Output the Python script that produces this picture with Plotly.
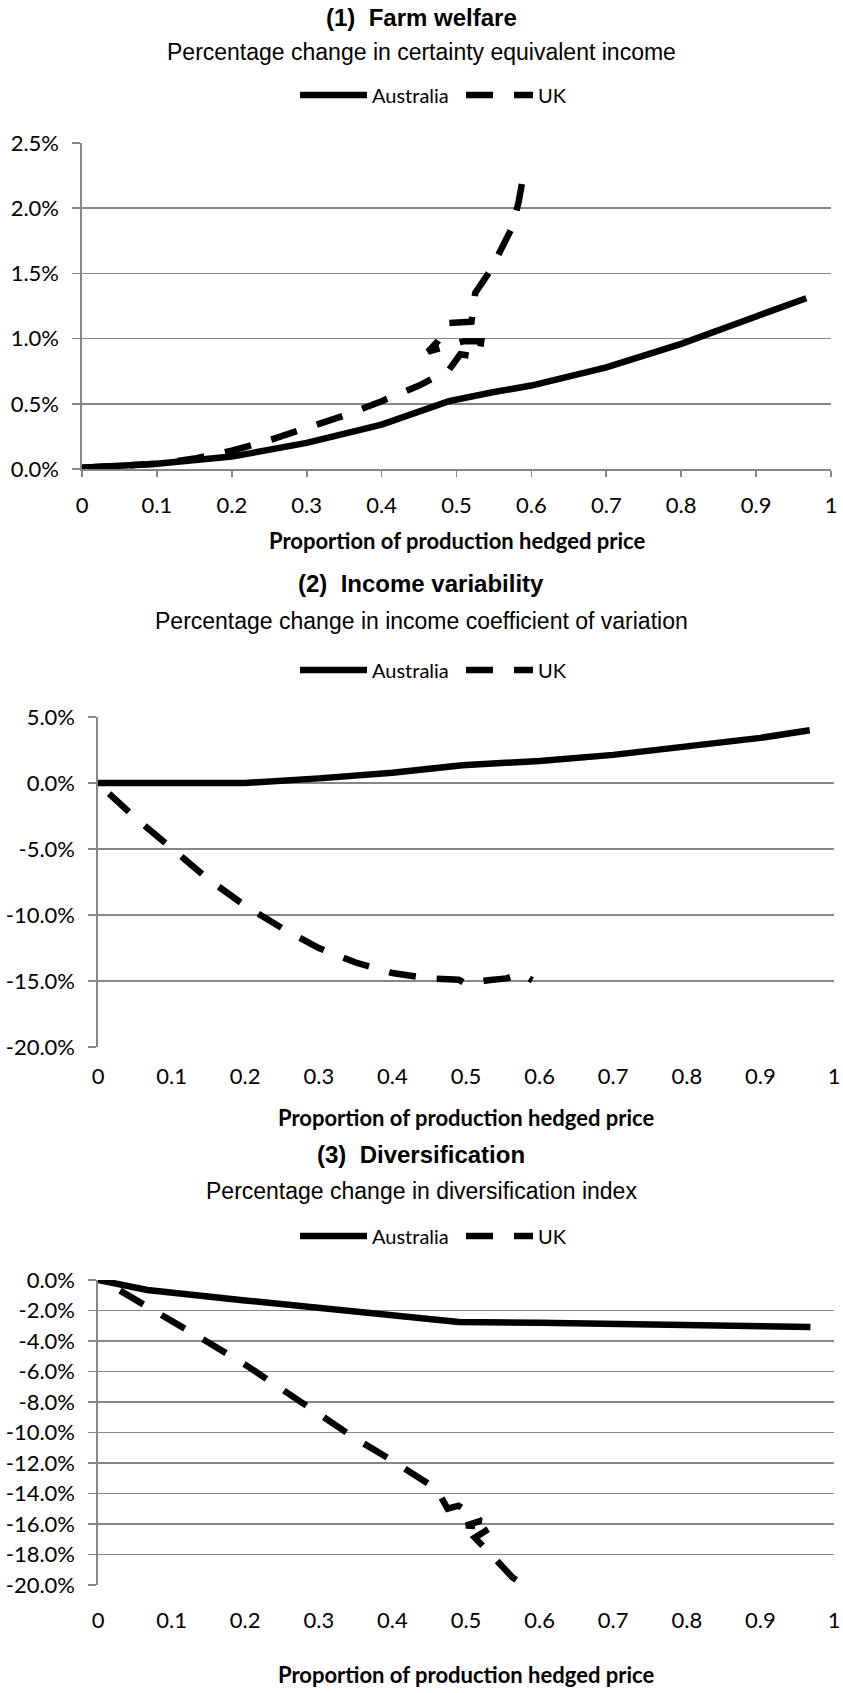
import plotly.graph_objects as go

# ---------------- data ----------------
x_ticks = [0, 0.1, 0.2, 0.3, 0.4, 0.5, 0.6, 0.7, 0.8, 0.9, 1]
x_ticklabels = ["0", "0.1", "0.2", "0.3", "0.4", "0.5", "0.6", "0.7", "0.8", "0.9", "1"]

# Panel 1: farm welfare (% change in certainty equivalent income)
p1_yticks = [0.0, 0.5, 1.0, 1.5, 2.0, 2.5]
p1_yticklabels = ["0.0%", "0.5%", "1.0%", "1.5%", "2.0%", "2.5%"]
p1_au_x = [0, 0.1, 0.2, 0.3, 0.4, 0.49, 0.55, 0.6, 0.7, 0.8, 0.9, 0.967]
p1_au_y = [0.01, 0.04, 0.095, 0.2, 0.34, 0.52, 0.59, 0.64, 0.78, 0.96, 1.17, 1.31]
p1_uk_x = [0.0, 0.1, 0.15, 0.2, 0.25, 0.3, 0.35, 0.4, 0.45, 0.49, 0.505, 0.53, 0.533,
           0.51, 0.462, 0.475, 0.49, 0.52, 0.525, 0.545, 0.56, 0.575, 0.583, 0.589]
p1_uk_y = [0.01, 0.04, 0.08, 0.14, 0.22, 0.31, 0.41, 0.52, 0.64, 0.76, 0.88, 0.86, 0.98,
           0.98, 0.90, 0.98, 1.12, 1.13, 1.35, 1.52, 1.69, 1.86, 2.05, 2.24]

# Panel 2: income variability (% change in income coefficient of variation)
p2_yticks = [-20, -15, -10, -5, 0, 5]
p2_yticklabels = ["-20.0%", "-15.0%", "-10.0%", "-5.0%", "0.0%", "5.0%"]
p2_au_x = [0, 0.1, 0.15, 0.2, 0.3, 0.4, 0.495, 0.6, 0.7, 0.8, 0.9, 0.967]
p2_au_y = [0.0, 0.0, -0.05, 0.0, 0.35, 0.78, 1.35, 1.67, 2.13, 2.75, 3.42, 4.0]
p2_uk_x = [0.015, 0.05, 0.1, 0.15, 0.2, 0.25, 0.3, 0.35, 0.4, 0.45, 0.49, 0.5, 0.53,
           0.555, 0.575, 0.59]
p2_uk_y = [-0.8, -2.6, -4.95, -7.3, -9.3, -11.0, -12.5, -13.6, -14.4, -14.8, -14.9,
           -15.2, -14.95, -14.8, -14.45, -14.95]

# Panel 3: diversification (% change in diversification index)
p3_yticks = [-20, -18, -16, -14, -12, -10, -8, -6, -4, -2, 0]
p3_yticklabels = ["-20.0%", "-18.0%", "-16.0%", "-14.0%", "-12.0%", "-10.0%",
                  "-8.0%", "-6.0%", "-4.0%", "-2.0%", "0.0%"]
p3_au_x = [0, 0.067, 0.2, 0.3, 0.4, 0.49, 0.6, 0.7, 0.8, 0.9, 0.968]
p3_au_y = [0.0, -0.65, -1.34, -1.83, -2.38, -2.75, -2.8, -2.85, -2.93, -3.0, -3.08]
p3_uk_x = [0.03, 0.1, 0.15, 0.2, 0.25, 0.3, 0.35, 0.4, 0.46, 0.475, 0.49, 0.52, 0.50,
           0.535, 0.512, 0.54, 0.563, 0.575, 0.59]
p3_uk_y = [-0.7, -2.75, -4.1, -5.55, -7.2, -8.85, -10.4, -11.85, -13.7, -15.0, -14.8,
           -15.8, -16.1, -16.2, -16.9, -18.3, -19.5, -19.88, -19.9]

titles = ["(1)  Farm welfare", "(2)  Income variability", "(3)  Diversification"]
subtitles = ["Percentage change in certainty equivalent income",
             "Percentage change in income coefficient of variation",
             "Percentage change in diversification index"]
x_title = "Proportion of production hedged price"
series_names = ["Australia", "UK"]

# ---------------- layout helpers ----------------
W, H = 843, 1693
def fx(px):
    return px / W
def fy(py):
    return 1 - py / H

GRID = "#868686"
LW = 6.5
DASH = "27px,21px"
TICKFONT = dict(family="Lato", size=22, color="black")
LEGFONT = dict(family="Lato", size=20, color="black")

fig = go.Figure()

panels = [
    dict(ax="", au=(p1_au_x, p1_au_y), uk=(p1_uk_x, p1_uk_y), leg="legend"),
    dict(ax="2", au=(p2_au_x, p2_au_y), uk=(p2_uk_x, p2_uk_y), leg="legend2"),
    dict(ax="3", au=(p3_au_x, p3_au_y), uk=(p3_uk_x, p3_uk_y), leg="legend3"),
]
for p in panels:
    fig.add_trace(go.Scatter(x=p["au"][0], y=p["au"][1], mode="lines", name=series_names[0],
                             line=dict(color="black", width=LW),
                             xaxis="x" + p["ax"], yaxis="y" + p["ax"], legend=p["leg"]))
    fig.add_trace(go.Scatter(x=p["uk"][0], y=p["uk"][1], mode="lines", name=series_names[1],
                             line=dict(color="black", width=LW, dash=DASH),
                             xaxis="x" + p["ax"], yaxis="y" + p["ax"], legend=p["leg"]))

# plot area pixel boxes: (left, right, top, bottom)
box1 = (82, 831, 143, 469)
box2 = (98, 834, 717, 1047)
box3 = (98, 834, 1280, 1585)

def xdom(b):
    return [fx(b[0]), fx(b[1])]
def ydom(b):
    return [fy(b[3]), fy(b[2])]

common_x = dict(range=[0, 1], tickvals=x_ticks, ticktext=x_ticklabels, tickfont=TICKFONT,
                showgrid=False, zeroline=False, fixedrange=True, automargin=False,
                ticklabeloverflow="allow")
common_y = dict(tickfont=TICKFONT, showgrid=True, gridcolor=GRID, gridwidth=1.6,
                zeroline=False, showline=True, linecolor=GRID, linewidth=1.6,
                ticks="outside", ticklen=8, tickcolor=GRID, tickwidth=1.6,
                ticklabelstandoff=9, automargin=False, fixedrange=True)
overlay_x = dict(anchor="free", ticks="outside", ticklen=6, tickcolor=GRID, tickwidth=1.6,
                 showticklabels=False, showline=True, linecolor=GRID, linewidth=1.6,
                 range=[0, 1], tickvals=x_ticks, showgrid=False, zeroline=False,
                 automargin=False, fixedrange=True)

fig.update_layout(
    width=W, height=H, margin=dict(l=0, r=0, t=0, b=0, autoexpand=False),
    plot_bgcolor="white", paper_bgcolor="white",
    xaxis=dict(domain=xdom(box1), anchor="y", ticks="outside", ticklen=6, tickcolor=GRID,
               tickwidth=1.6, showline=True, linecolor=GRID, linewidth=1.6,
               ticklabelstandoff=10, **common_x),
    yaxis=dict(domain=ydom(box1), anchor="x", range=[0, 2.5], tickvals=p1_yticks,
               ticktext=p1_yticklabels, **common_y),
    xaxis2=dict(domain=xdom(box2), anchor="y2", ticks="", showline=False,
                ticklabelstandoff=14, **common_x),
    yaxis2=dict(domain=ydom(box2), anchor="x2", range=[-20, 5], tickvals=p2_yticks,
                ticktext=p2_yticklabels, **common_y),
    xaxis4=dict(overlaying="x2",
                position=ydom(box2)[0] + (ydom(box2)[1] - ydom(box2)[0]) * 20 / 25,
                **overlay_x),
    xaxis3=dict(domain=xdom(box3), anchor="y3", ticks="", showline=False,
                ticklabelstandoff=20, **common_x),
    yaxis3=dict(domain=ydom(box3), anchor="x3", range=[-20, 0], tickvals=p3_yticks,
                ticktext=p3_yticklabels, **common_y),
    xaxis5=dict(overlaying="x3", position=ydom(box3)[1], **overlay_x),
    showlegend=True,
)

leg_common = dict(orientation="h", xref="paper", yref="paper", xanchor="center",
                  yanchor="middle", font=LEGFONT, itemwidth=67, entrywidth=84,
                  bgcolor="rgba(0,0,0,0)", itemclick=False, itemdoubleclick=False,
                  tracegroupgap=0)
fig.update_layout(
    legend=dict(x=fx(461), y=fy(95), **leg_common),
    legend2=dict(x=fx(461), y=fy(670), **leg_common),
    legend3=dict(x=fx(461), y=fy(1236), **leg_common),
)

# titles, subtitles, axis titles
title_y = [18, 584, 1154]
sub_y = [52, 621, 1191]
axt_y = [540, 1117, 1674]
axt_x = [(box1[0] + box1[1]) / 2, (box2[0] + box2[1]) / 2, (box3[0] + box3[1]) / 2]
for i in range(3):
    fig.add_annotation(text=titles[i], x=fx(421), y=fy(title_y[i]), xref="paper", yref="paper",
                       showarrow=False, xanchor="center", yanchor="middle",
                       font=dict(family="Liberation Sans", size=24, color="black", weight="bold"))
    fig.add_annotation(text=subtitles[i], x=fx(421), y=fy(sub_y[i]), xref="paper", yref="paper",
                       showarrow=False, xanchor="center", yanchor="middle",
                       font=dict(family="Liberation Sans", size=23, color="black"))
    fig.add_annotation(text=x_title, x=fx(axt_x[i]), y=fy(axt_y[i]), xref="paper", yref="paper",
                       showarrow=False, xanchor="center", yanchor="middle",
                       font=dict(family="Lato", size=22, color="black", weight="bold"))

fig.write_html("out.html", config={"displayModeBar": False, "staticPlot": True},
               post_script="document.body.style.margin='0';document.body.style.overflow='hidden';")
